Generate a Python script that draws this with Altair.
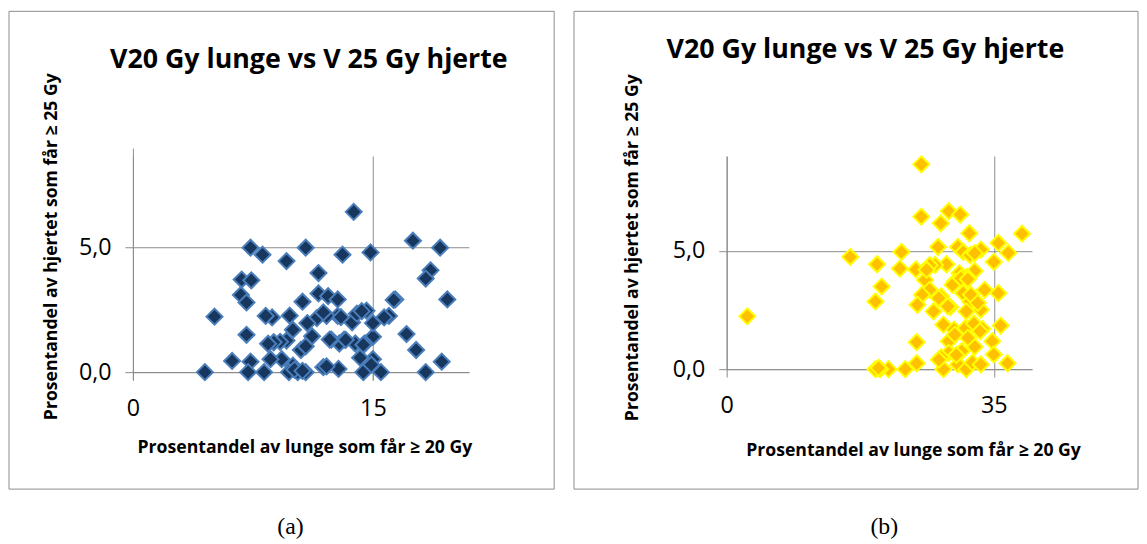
import altair as alt
import pandas as pd

# ---------------- data ----------------
a_x = [4.5, 5.1, 6.2, 7.1, 7.35, 7.2, 8.2, 6.8, 7.4, 6.75, 7.1, 7.35, 8.1, 9.6, 10.8, 11.6, 13.1, 13.8,
       14.85, 17.5, 19.2, 18.6, 18.3, 19.65, 16.4, 16.0, 15.7, 17.1, 17.7, 18.3, 19.3, 15.5, 14.4, 15.0,
       14.2, 15.0, 14.5, 13.9, 13.2, 12.9, 12.4, 13.7, 14.0, 14.6, 15.0, 12.8, 12.1, 11.5, 11.9, 11.6,
       12.2, 12.8, 10.6, 9.8, 8.7, 8.3, 10.9, 10.0, 11.2, 9.6, 9.2, 8.8, 8.45, 10.5, 10.8, 9.3, 8.6,
       10.0, 10.3, 10.8, 9.75, 11.9, 12.85, 10.1, 13.0, 14.3, 16.3, 12.3, 13.3, 14.4, 14.9, 12.1, 10.6]
a_y = [0.0, 2.23, 0.45, 1.5, 0.42, 0.0, 0.0, 3.72, 3.69, 3.1, 2.8, 5.0, 4.72, 4.46, 5.0, 3.98, 4.72, 6.44,
       4.81, 5.28, 5.0, 4.09, 3.76, 2.92, 2.92, 2.26, 2.2, 1.53, 0.89, 0.0, 0.42, 0.0, 0.0, 0.52,
       0.58, 1.42, 1.15, 1.15, 1.31, 1.15, 1.31, 2.0, 2.35, 2.47, 1.97, 2.26, 2.26, 2.17, 2.4, 3.16,
       3.05, 2.92, 2.83, 2.27, 2.2, 2.26, 1.97, 1.7, 1.44, 1.27, 1.22, 1.2, 1.14, 0.89, 1.04, 0.52, 0.52,
       0.26, 0.0, 0.0, 0.0, 0.2, 0.13, 0.1, 2.21, 2.45, 2.9, 1.31, 1.3, 1.1, 0.3, 0.23, 0.05]

b_x = [2.7, 16.2, 19.7, 20.3, 19.5, 22.9, 22.7, 24.8, 25.5, 25.5, 28.05, 29.1, 30.6, 31.8, 38.7, 35.6,
       36.9, 35.0, 33.3, 27.7, 30.3, 31.0, 31.9, 32.5, 28.8, 27.3, 26.6, 32.5, 31.5, 30.5, 29.9, 26.0,
       26.6, 25.6, 28.1, 25.0, 27.1, 29.3, 31.0, 31.9, 33.3, 33.8, 35.6, 35.9, 28.4, 29.8, 31.3, 32.4,
       33.5, 34.8, 32.5, 29.1, 29.1, 28.1, 24.9, 24.9, 23.4, 21.2, 20.1, 19.5, 28.4, 30.3, 31.4, 32.2,
       33.3, 35.0, 36.8, 30.8, 31.6, 29.6, 30.7, 31.6, 32.0, 32.9, 31.4, 29.9, 33.2, 27.8, 30.1, 27.8,
       29.0, 19.9, 26.2]
b_y = [2.23, 4.74, 4.43, 3.49, 2.86, 4.95, 4.25, 4.21, 8.65, 6.44, 6.16, 6.67, 6.53, 5.74, 5.72, 5.33,
       4.91, 4.53, 5.05, 5.16, 5.16, 4.95, 4.81, 4.9, 4.43, 4.4, 4.39, 4.15, 3.9, 4.05, 3.7, 3.77,
       3.35, 3.14, 3.07, 2.72, 2.44, 2.62, 3.21, 2.86, 2.51, 3.35, 3.21, 1.84, 1.88, 1.67, 1.74, 1.93,
       1.7, 1.18, 0.95, 1.18, 0.69, 0.5, 1.14, 0.25, 0.0, 0.0, 0.0, 0.0, 0.0, 0.2, 0.0, 0.28,
       0.2, 0.62, 0.25, 0.76, 1.32, 3.56, 3.84, 3.8, 3.14, 2.8, 2.44, 1.46, 1.6, 0.4, 0.6, 3.0,
       2.65, 0.05, 4.2]

TITLE = "V20 Gy lunge vs V 25 Gy hjerte"
X_TITLE = "Prosentandel av lunge som får ≥ 20 Gy"
Y_TITLE = "Prosentandel av hjertet som får ≥ 25 Gy"
captions = ["(a)", "(b)"]
x_ticks = [[0, 15], [0, 35]]
y_ticks = [0, 5]
x_max = [21, 40]
y_max = 9

GRID = "#8c8c8c"
FONT = "Open Sans"


def panel(xs, ys, xmax, xt, fill, stroke, w, h, yrange, box, title_dx, title_dy,
          ytitle_xy, xtitle_xy, caption, cap_xy):
    df = pd.DataFrame({"x": xs, "y": ys})
    common = dict(grid=True, gridColor=GRID, domainColor=GRID, tickColor=GRID,
                  tickSize=8, labelFlush=False, labelFont=FONT, labelFontSize=23.5,
                  labelColor="black", titleFont=FONT, titleFontSize=17.8,
                  titleFontWeight="bold", titleColor="black", titleAlign="center",
                  titleBaseline="alphabetic", labelOverlap=False)
    xaxis = alt.Axis(values=xt, labelPadding=17, title=X_TITLE,
                     titleX=xtitle_xy[0], titleY=xtitle_xy[1], **common)
    yaxis = alt.Axis(values=y_ticks, labelPadding=14,
                     labelExpr="replace(format(datum.value, '.1f'), '.', ',')",
                     title=Y_TITLE, titleAngle=270,
                     titleX=ytitle_xy[0], titleY=ytitle_xy[1], **common)
    pts = alt.Chart(df).mark_point(
        shape="diamond", filled=True, fill=fill, stroke=stroke, strokeWidth=2,
        size=260, opacity=1, fillOpacity=1, strokeOpacity=1
    ).encode(
        x=alt.X("x:Q", scale=alt.Scale(domain=[0, xmax], nice=False, zero=True), axis=xaxis),
        y=alt.Y("y:Q", scale=alt.Scale(domain=[0, y_max], range=yrange, nice=False, zero=True),
                axis=yaxis),
    )
    border = alt.Chart(pd.DataFrame({"k": [0]})).mark_rect(
        fillOpacity=0, stroke=GRID, strokeWidth=1
    ).encode(x=alt.value(box[0]), x2=alt.value(box[1]),
             y=alt.value(box[2]), y2=alt.value(box[3]))
    cap = alt.Chart(pd.DataFrame({"t": [caption]})).mark_text(
        font="Liberation Serif", fontSize=24, color="black", baseline="middle"
    ).encode(text="t:N", x=alt.value(cap_xy[0]), y=alt.value(cap_xy[1]))
    return alt.layer(border, pts, cap).properties(
        width=w, height=h,
        title=alt.TitleParams(TITLE, font=FONT, fontSize=27, fontWeight="bold",
                              color="black", anchor="middle", frame="group",
                              offset=0, dx=title_dx, dy=title_dy, baseline="alphabetic"),
    )


left = panel(a_x, a_y, x_max[0], x_ticks[0], "#17375e", "#4a7ebb", 339, 218, [218, -8],
             (-125, 425, -146, 336), 8, 85, (-77, 91), (173, 81), captions[0], (159, 374))
right = panel(b_x, b_y, x_max[1], x_ticks[1], "#ffc000", "#ffff00", 308, 215, [215, 0],
              (-154, 415, -146, 336), -14, 75, (-90, 92), (188, 87), captions[1], (159, 374))

chart = alt.hconcat(left, right, spacing=18).properties(
    padding=0, background="white"
).configure_view(strokeWidth=0)

chart.save("out.html", embed_options={"renderer": "svg", "actions": False})
